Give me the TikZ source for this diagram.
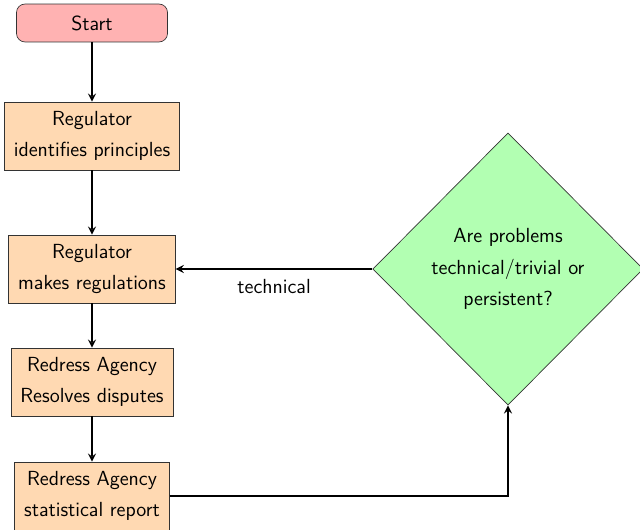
\documentclass[tikz,border=0pt]{standalone}
\usetikzlibrary{shapes.geometric,arrows}
\begin{document}
\begin{tikzpicture}[x=0.588pt,y=-0.588pt,
  base/.style={draw=black!80, font=\sffamily\fontsize{12}{18.5}\selectfont, align=center},
  startbox/.style={base, rectangle, rounded corners=5pt, fill=red!30, minimum width=88.8pt, minimum height=22.3pt},
  procbox/.style={base, rectangle, fill=orange!30, inner xsep=5.6pt, minimum height=40pt},
  decbox/.style={base, diamond, fill=green!30, minimum width=159pt, minimum height=160pt, inner sep=0pt},
  conn/.style={line width=1.1pt, -stealth},
  lbl/.style={font=\sffamily\fontsize{12}{14}\selectfont}]
\useasboundingbox (0,0) rectangle (640,530);
\node[startbox] (start) at (92,23) {Start};
\node[procbox] (p1) at (92,136) {Regulator\\identifies principles};
\node[procbox] (p2) at (92,269) {Regulator\\makes regulations};
\node[procbox] (p3) at (92,382) {Redress Agency\\Resolves disputes};
\node[procbox] (p4) at (92,496) {Redress Agency\\statistical report};
\node[decbox] (d) at (508,269) {Are problems\\technical/trivial or\\persistent?};
\draw[conn] (start) -- (p1);
\draw[conn] (p1) -- (p2);
\draw[conn] (p2) -- (p3);
\draw[conn] (p3) -- (p4);
\draw[conn] (d.west) -- node[lbl, below=2pt] (tl) {technical} (p2.east);
\draw[conn] (p4.east) -| (d.south);
\end{tikzpicture}
\end{document}
